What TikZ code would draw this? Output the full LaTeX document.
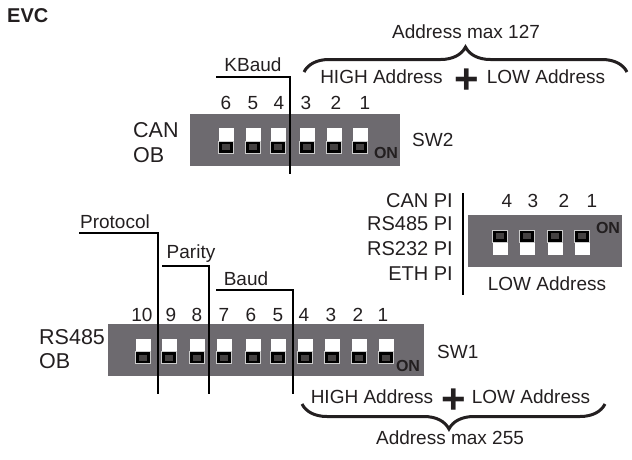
\documentclass[tikz,border=0pt]{standalone}
\usepackage{fontspec}
\setmainfont{Liberation Sans}
\usetikzlibrary{decorations.pathreplacing}
\definecolor{panelgray}{HTML}{6D6A6F}
\definecolor{inkblack}{HTML}{231F20}
\tikzset{
  swlabel/.style={inner sep=0pt,text height=13.6pt,text depth=0pt,text=inkblack,font=\fontsize{19}{19}\selectfont},
  biglabel/.style={swlabel,anchor=west,text height=15.4pt,font=\fontsize{21.5}{21.5}\selectfont},
  pilabel/.style={swlabel,anchor=east,text height=14.3pt,font=\fontsize{20}{20}\selectfont},
  onlabel/.style={inner sep=0pt,text height=11.5pt,text depth=0pt,text=inkblack,font=\fontsize{16}{16}\selectfont\bfseries},
  pluslabel/.style={inner sep=0pt,text=inkblack,font=\fontsize{42}{42}\selectfont\bfseries},
  swpanel/.style={fill=panelgray,draw=none,inner sep=0pt},
  swwhite/.style={fill=white,draw=none,inner sep=0pt,minimum width=15pt,minimum height=24.5pt},
  swblack/.style={fill=black,draw=white!80!black,line width=.6pt,inner sep=0pt,minimum width=14.5pt,minimum height=12pt},
  swinner/.style={fill=inkblack!85,draw=none,inner sep=0pt,minimum width=8pt,minimum height=6pt},
  busline/.style={draw=black,line width=2.4pt},
  addrbrace/.style={draw=inkblack,line width=3pt,decorate},
}
\begin{document}
\begin{tikzpicture}[x=1pt,y=-1pt]
\useasboundingbox (0,0) rectangle (632,459);

\node (evc) [anchor=west,inner sep=0pt,text height=14.3pt,font=\fontsize{20}{20}\selectfont\bfseries,text=inkblack] at (7,15) {EVC};

% SW2
\node (panelB) [swpanel,minimum width=210pt,minimum height=52pt] at (295,140) {};
\foreach \x/\n/\numx in {226/6/226,253/5/253,278/4/279,307/3/306,334/2/336,360/1/365}{
  \node (swB\n) [swwhite] at (\x,140.5) {};
  \node (swBb\n) [swblack] at (\x,147) {};
  \node (swBi\n) [swinner] at (\x,147) {};
  \node (numB\n) [swlabel] at (\numx,103) {\n};
}
\node (onB) [onlabel] at (386,153) {ON};
\node (canob) [biglabel] at (133,130) {CAN};
\node (canob2) [biglabel] at (133,155) {OB};
\node (sw2) [swlabel,anchor=west] at (412,140) {SW2};
\node (kbaud) [swlabel] at (253,65) {KBaud};
\coordinate (kbaudstart) at (216,77);
\coordinate (kbaudend) at (290,174);
\draw [busline] (kbaudstart) -| (kbaudend);

\node (highB) [swlabel] at (381.5,77) {HIGH Address};
\node (plusB) [pluslabel] at (467,81) {+};
\node (lowB) [swlabel] at (546,77) {LOW Address};
\node (max127) [swlabel] at (466,32) {Address max 127};
\coordinate (braceBl) at (304,72);
\coordinate (braceBr) at (627,72);
\draw [addrbrace,decoration={brace,amplitude=25pt,aspect=.5}] (braceBl) -- (braceBr);

% LOW address
\node (panelC) [swpanel,minimum width=154pt,minimum height=52pt] at (545,241) {};
\foreach \x/\n/\numx in {500/4/507,527/3/533,555/2/564,582/1/592}{
  \node (swC\n) [swwhite] at (\x,242.5) {};
  \node (swCb\n) [swblack] at (\x,236) {};
  \node (swCi\n) [swinner] at (\x,236) {};
  \node (numC\n) [swlabel] at (\numx,201) {\n};
}
\node (onC) [onlabel] at (608,228) {ON};
\node (canpi) [pilabel] at (453,200) {CAN PI};
\node (rs485pi) [pilabel] at (453,223) {RS485 PI};
\node (rs232pi) [pilabel] at (453,248) {RS232 PI};
\node (ethpi) [pilabel] at (453,273) {ETH PI};
\node (lowC) [swlabel] at (547,284) {LOW Address};
\coordinate (pitop) at (463,193);
\coordinate (pibot) at (463,295);
\draw [busline,line width=1.5pt] (pitop) -- (pibot);

% SW1
\node (panelA) [swpanel,minimum width=316pt,minimum height=52pt] at (266,350) {};
\foreach \x/\n/\numx in {143/10/142,169/9/171,197/8/197,224/7/224,253/6/251,278/5/278,305/4/304,332/3/331,359/2/358,386/1/383}{
  \node (swA\n) [swwhite] at (\x,351) {};
  \node (swAb\n) [swblack] at (\x,357.5) {};
  \node (swAi\n) [swinner] at (\x,357.5) {};
  \node (numA\n) [swlabel] at (\numx,315) {\n};
}
\node (onA) [onlabel] at (408,366) {ON};
\node (rs485ob) [biglabel] at (39,337) {RS485};
\node (rs485ob2) [biglabel] at (39,361) {OB};
\node (sw1) [swlabel,anchor=west] at (437,352) {SW1};
\node (protocol) [swlabel] at (115,222) {Protocol};
\node (parity) [swlabel] at (191,252) {Parity};
\node (baud) [swlabel] at (246,279) {Baud};
\coordinate (protstart) at (79,233);
\coordinate (protend) at (158,394);
\coordinate (parstart) at (162,266);
\coordinate (parend) at (209,394);
\coordinate (baudstart) at (216,290);
\coordinate (baudend) at (293,394);
\draw [busline] (protstart) -| (protend);
\draw [busline] (parstart) -| (parend);
\draw [busline] (baudstart) -| (baudend);

\node (highA) [swlabel] at (372,397) {HIGH Address};
\node (plusA) [pluslabel] at (454,401) {+};
\node (lowA) [swlabel] at (531,397) {LOW Address};
\node (max255) [swlabel] at (450,438) {Address max 255};
\coordinate (braceAl) at (302,404);
\coordinate (braceAr) at (605,404);
\draw [addrbrace,decoration={brace,mirror,amplitude=25pt,aspect=.485}] (braceAl) -- (braceAr);
\end{tikzpicture}
\end{document}
